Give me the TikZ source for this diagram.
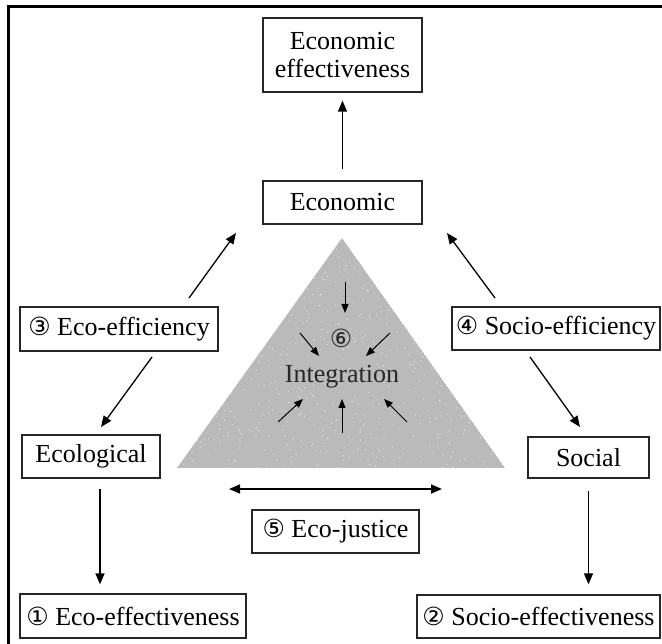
\documentclass[tikz,border=0pt]{standalone}
\usepackage{fontspec}
\setmainfont{Liberation Serif}
\newfontfamily\cnumfont{DejaVu Sans}
\newcommand{\cnum}[1]{{\cnumfont\fontsize{25}{25}\selectfont #1}}
\usetikzlibrary{arrows.meta,calc}
\definecolor{trigray}{RGB}{186,186,186}
\definecolor{inktext}{RGB}{40,40,40}
\begin{document}
\begin{tikzpicture}[x=1pt,y=-1pt,
  box/.style={draw=black!85, line width=1.3pt, inner sep=0pt, align=center,
    font=\fontsize{26}{28}\selectfont},
  arr/.style={line width=1.3pt, -{Triangle[length=11pt,width=9pt]}},
  darr/.style={line width=1.7pt, {Triangle[length=11pt,width=9pt]}-{Triangle[length=11pt,width=9pt]}},
  iarr/.style={line width=1pt, -{Triangle[length=9pt,width=7pt]}},
  frame/.style={line width=3pt, draw=black}]
\useasboundingbox (0,0) rectangle (662,644);

% outer frame (left and top visible)
\draw[frame] (8.5,644) -- (8.5,6.5) -- (662,6.5);

% central triangle with speckles
\begin{scope}
\clip (342,238) -- (505,468) -- (177,468) -- cycle;
\fill[trigray] (342,238) -- (505,468) -- (177,468) -- cycle;
\pgfmathsetseed{7}
\foreach \k in {1,...,700}{
  \pgfmathsetmacro{\px}{177+328*rnd}
  \pgfmathsetmacro{\py}{238+230*rnd}
  \fill[white, opacity=0.45] (\px,\py) circle (0.8pt);
}
\end{scope}

% boxes
\node[box, minimum width=159pt, minimum height=74pt] (econeff) at (342.5,55) {Economic\\effectiveness};
\node[box, minimum width=159pt, minimum height=43pt] (econ) at (342.5,202.5) {Economic};
\node[box, minimum width=198pt, minimum height=44pt] (ecoeff) at (119,329) {\cnum{③} Eco-efficiency};
\node[box, minimum width=208pt, minimum height=43pt] (socioeff) at (556,328.5) {\cnum{④} Socio-efficiency};
\node[box, minimum width=138pt, minimum height=43pt] (ecol) at (91,456.5) {Ecological};
\node[box, minimum width=121pt, minimum height=41pt] (social) at (588.5,457.5) {Social};
\node[box, minimum width=167pt, minimum height=43pt] (ecojust) at (335.5,531.5) {\cnum{⑤} Eco-justice};
\node[box, minimum width=226pt, minimum height=44pt] (ecoeffness) at (133,616) {\cnum{①} Eco-effectiveness};
\node[box, minimum width=243pt, minimum height=43pt] (socioeffness) at (538.5,616.5) {\cnum{②} Socio-effectiveness};

% integration label
\node[text=inktext, font=\fontsize{26}{28}\selectfont, inner sep=0pt] (integ) at (342,377) {Integration};
\node[text=inktext, inner sep=0pt] (six) at (341,338) {\cnum{⑥}};

% arrow end points
\coordinate (a1s) at (189,298); \coordinate (a1e) at (236,233);
\coordinate (a2s) at (495,298); \coordinate (a2e) at (447,233);
\coordinate (a3s) at (152,357); \coordinate (a3e) at (101,427);
\coordinate (a4s) at (530,357); \coordinate (a4e) at (580,427);
\coordinate (js) at (229,489); \coordinate (je) at (442,489);
\coordinate (e0) at ($(econ.north)+(0,-11)$);
\coordinate (e1) at ($(econeff.south)+(0,8)$);
\coordinate (b1) at ($(ecol.south)+(9,10)$);
\coordinate (b1e) at ($(ecoeffness.north -| b1)+(0,-9)$);
\coordinate (b2) at ($(social.south)+(0,12)$);
\coordinate (b2e) at ($(socioeffness.north -| b2)+(0,-10)$);

% main connectors
\draw[arr] (e0) -- (e1);
\draw[arr] (a1s) -- (a1e);
\draw[arr] (a2s) -- (a2e);
\draw[arr] (a3s) -- (a3e);
\draw[arr] (a4s) -- (a4e);
\draw[darr] (js) -- (je);
\draw[arr] (b1) -- (b1e);
\draw[arr] (b2) -- (b2e);

% inner arrows
\coordinate (i1s) at (345,282); \coordinate (i1e) at (345,313);
\coordinate (i2s) at (300,333); \coordinate (i2e) at (319,356);
\coordinate (i3s) at (390,333); \coordinate (i3e) at (366,356);
\coordinate (i4s) at (278,422); \coordinate (i4e) at (303,399);
\coordinate (i5s) at (342,433); \coordinate (i5e) at (342,399);
\coordinate (i6s) at (407,422); \coordinate (i6e) at (384,399);
\draw[iarr] (i1s) -- (i1e);
\draw[iarr] (i2s) -- (i2e);
\draw[iarr] (i3s) -- (i3e);
\draw[iarr] (i4s) -- (i4e);
\draw[iarr] (i5s) -- (i5e);
\draw[iarr] (i6s) -- (i6e);
\end{tikzpicture}
\end{document}
